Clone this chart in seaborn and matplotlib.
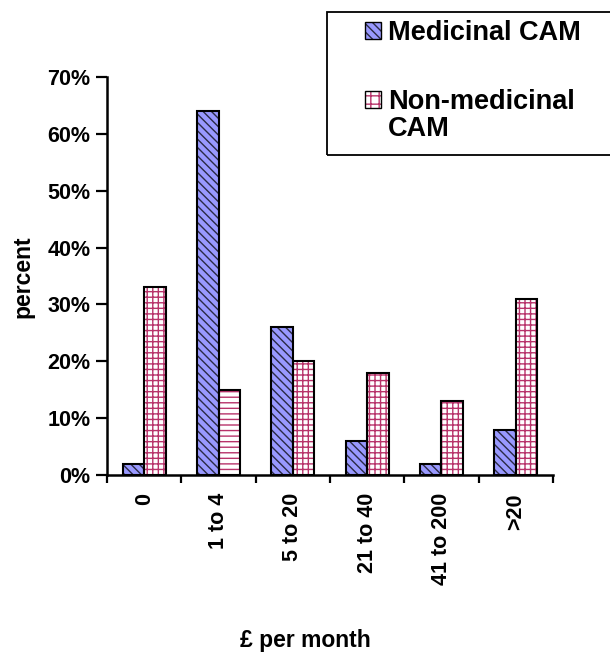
import matplotlib
matplotlib.use("Agg")
import matplotlib.pyplot as plt
import seaborn as sns
import pandas as pd
from matplotlib.patches import Patch, Rectangle

categories = ["0", "1 to 4", "5 to 20", "21 to 40", "41 to 200", ">20"]
medicinal = [2, 64, 26, 6, 2, 8]
non_medicinal = [33, 15, 20, 18, 13, 31]
series = ["Medicinal CAM", "Non-medicinal CAM"]
yticks = [0, 10, 20, 30, 40, 50, 60, 70]

sns.set_theme(style="white")
plt.rcParams['font.family'] = ['Liberation Sans', 'DejaVu Sans']
plt.rcParams['font.weight'] = 'bold'
plt.rcParams['hatch.linewidth'] = 1.0
for k in ['text.color', 'axes.labelcolor', 'xtick.color', 'ytick.color']:
    plt.rcParams[k] = 'black'

df = pd.DataFrame({
    "cat": categories * 2,
    "val": [v / 100 for v in medicinal] + [v / 100 for v in non_medicinal],
    "series": [series[0]] * len(categories) + [series[1]] * len(categories),
})

W, H = 610, 656
fig = plt.figure(figsize=(W / 100, H / 100), dpi=100)
ax = fig.add_axes([107 / W, 1 - 475 / H, (553 - 107) / W, (475 - 77) / H])

med_color = "#9999FF"
med_hatch_col = "#2A2A45"
non_hatch_col = "#B8336A"

sns.barplot(data=df, x="cat", y="val", hue="series", order=categories,
            hue_order=series, width=0.58, gap=0, ax=ax, legend=False,
            palette=[med_color, "#FFFFFF"], saturation=1)

for bar in ax.containers[0]:
    bar.set_facecolor(med_color)
    bar.set_edgecolor(med_hatch_col)
    bar.set_hatch("\\\\\\\\")
    bar.set_linewidth(0)
for i, bar in enumerate(ax.containers[1]):
    bar.set_facecolor("white")
    bar.set_edgecolor(non_hatch_col)
    bar.set_hatch("---" if i == 1 else "+++")
    bar.set_linewidth(0)
for cont in ax.containers[:2]:
    for bar in cont:
        x, y = bar.get_xy()
        ax.add_patch(Rectangle((x, y), bar.get_width(), bar.get_height(),
                               fill=False, edgecolor="black", linewidth=1.5,
                               zorder=bar.get_zorder() + 0.1))

ax.set_xlim(-0.5, len(categories) - 0.5)
ax.set_ylim(0, 0.7)
ax.set_yticks([v / 100 for v in yticks])
ax.set_yticklabels([f"{v}%" for v in yticks], fontsize=15.5, fontweight="bold")
ax.set_xticks(range(len(categories)))
ax.set_xticklabels(categories, rotation=90, fontsize=15.5, fontweight="bold")
ax.set_xticks([i - 0.5 for i in range(len(categories) + 1)], minor=True)
ax.tick_params(axis="x", which="major", length=0, pad=13)
ax.tick_params(axis="x", which="minor", length=6, width=1.6, direction="out", bottom=True)
ax.tick_params(axis="y", length=8, width=1.6, direction="out", left=True, pad=4)

for s in ["top", "right"]:
    ax.spines[s].set_visible(False)
for s in ["left", "bottom"]:
    ax.spines[s].set_visible(True)
    ax.spines[s].set_color("black")
    ax.spines[s].set_linewidth(1.8)

ax.set_ylabel("")
ax.set_xlabel("")
fig.text(23 / W, 1 - 277 / H, "percent", rotation=90, ha="center", va="center",
         fontsize=16.5, fontweight="bold")
fig.text(305 / W, 1 - 641 / H, "£ per month", ha="center", va="center",
         fontsize=16.5, fontweight="bold")

# legend frame (extends past the right edge as in the original)
fig.patches.append(Rectangle((327 / W, 1 - 155 / H), 320 / W, 143 / H,
                             transform=fig.transFigure, fill=False,
                             edgecolor="black", linewidth=1.3, clip_on=False))

h1 = (Patch(facecolor=med_color, edgecolor=med_hatch_col, hatch="\\\\\\\\", linewidth=0),
      Patch(fill=False, edgecolor="black", linewidth=1.0))
h2 = (Patch(facecolor="white", edgecolor=non_hatch_col, hatch="++", linewidth=0),
      Patch(fill=False, edgecolor="black", linewidth=1.0))
leg = fig.legend([h1, h2], ["Medicinal CAM", "Non-medicinal"], loc="upper left",
                 bbox_to_anchor=(365 / W, 1 - 20.5 / H),
                 frameon=False, prop={"weight": "bold", "size": 19.5},
                 handlelength=0.59, handleheight=0.59, handletextpad=0.26,
                 labelspacing=1.56, borderpad=0, borderaxespad=0)
fig.text(388 / W, 1 - 128.5 / H, "CAM", ha="left", va="center",
         fontsize=19.5, fontweight="bold")

fig.savefig("out.png", dpi=100)
